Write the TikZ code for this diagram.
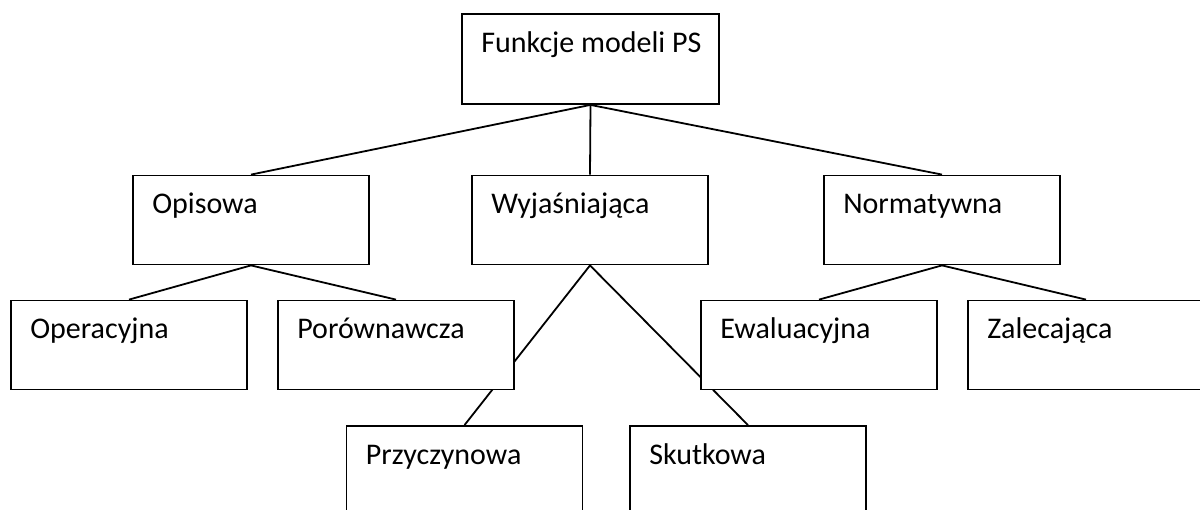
\documentclass[tikz,border=0pt]{standalone}
\usepackage{fontspec}
\setmainfont{Carlito}
\usetikzlibrary{backgrounds}
\begin{document}
\begin{tikzpicture}[x=1pt,y=-1pt,
  box/.style={draw=black,fill=white,line width=1.8pt,rectangle,inner sep=0pt,
    minimum width=236pt,minimum height=89pt},
  lbl/.style={anchor=base west,xshift=20pt,yshift=-39pt,inner sep=0pt,
    font=\fontsize{30}{36}\selectfont},
  conn/.style={draw=black,line width=1.8pt}]
\useasboundingbox (0,0) rectangle (1200,509);
\clip (0,0) rectangle (1200,509);
\node[box,minimum width=257pt,minimum height=90pt,label={[lbl]north west:Funkcje modeli PS}] (root) at (590.5,59) {};
\node[box,label={[lbl]north west:Opisowa}] (opis) at (251,220) {};
\node[box,label={[lbl]north west:Wyjaśniająca}] (wyj) at (590,220) {};
\node[box,label={[lbl]north west:Normatywna}] (norm) at (942,220) {};
\node[box,label={[lbl]north west:Operacyjna}] (oper) at (129,345) {};
\node[box,label={[lbl]north west:Porównawcza}] (por) at (396,345) {};
\node[box,label={[lbl]north west:Ewaluacyjna}] (ewal) at (819,345) {};
\node[box,label={[lbl]north west:Zalecająca}] (zal) at (1086,345) {};
\node[box,label={[lbl]north west:Przyczynowa}] (przy) at (464.5,470.5) {};
\node[box,label={[lbl]north west:Skutkowa}] (skut) at (748,470.5) {};
\begin{scope}[on background layer]
\draw[conn] (root.south) -- (opis.north);
\draw[conn] (root.south) -- (wyj.north);
\draw[conn] (root.south) -- (norm.north);
\draw[conn] (opis.south) -- (oper.north);
\draw[conn] (opis.south) -- (por.north);
\draw[conn] (wyj.south) -- (przy.north);
\draw[conn] (wyj.south) -- (skut.north);
\draw[conn] (norm.south) -- (ewal.north);
\draw[conn] (norm.south) -- (zal.north);
\end{scope}
\end{tikzpicture}
\end{document}
